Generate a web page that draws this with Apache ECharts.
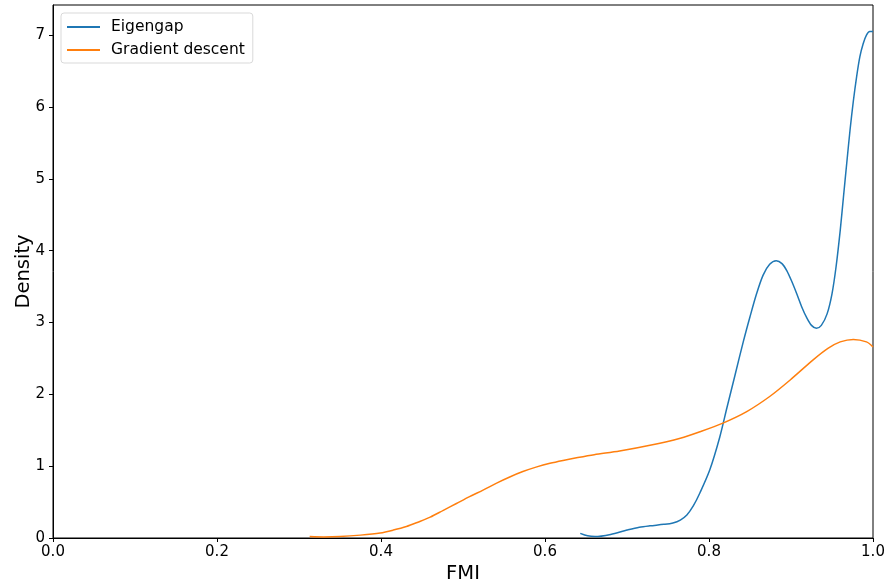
<!DOCTYPE html>
<html>
<head>
<meta charset="utf-8">
<script src="https://cdn.jsdelivr.net/npm/echarts@6/dist/echarts.min.js"></script>
<style>html,body{margin:0;padding:0;background:#fff}#c{width:888px;height:588px}</style>
</head>
<body>
<div id="c"></div>
<script>
const xTicks = [0, 0.2, 0.4, 0.6, 0.8, 1.0];
const yTicks = [0, 1, 2, 3, 4, 5, 6, 7];
const seriesNames = ['Eigengap', 'Gradient descent'];
const eigenX = [0.643, 0.652, 0.661, 0.680, 0.700, 0.715, 0.728, 0.745, 0.756, 0.765, 0.773, 0.781, 0.789, 0.801, 0.813, 0.822, 0.832, 0.842, 0.850, 0.858, 0.866, 0.874, 0.882, 0.889, 0.895, 0.901, 0.907, 0.913, 0.919, 0.925, 0.931, 0.937, 0.944, 0.950, 0.955, 0.960, 0.964, 0.968, 0.972, 0.976, 0.980, 0.984, 0.988, 0.992, 0.996, 1.0];
const eigenY = [0.065, 0.03, 0.02, 0.05, 0.11, 0.15, 0.17, 0.19, 0.21, 0.25, 0.32, 0.45, 0.63, 0.95, 1.40, 1.82, 2.28, 2.74, 3.08, 3.40, 3.66, 3.81, 3.86, 3.82, 3.72, 3.57, 3.40, 3.22, 3.07, 2.96, 2.92, 2.96, 3.12, 3.40, 3.78, 4.28, 4.75, 5.22, 5.68, 6.08, 6.42, 6.70, 6.88, 7.00, 7.05, 7.05];
const gradX = [0.313, 0.330, 0.350, 0.375, 0.399, 0.415, 0.431, 0.445, 0.460, 0.476, 0.492, 0.508, 0.525, 0.541, 0.557, 0.573, 0.590, 0.606, 0.622, 0.640, 0.660, 0.691, 0.728, 0.765, 0.789, 0.817, 0.846, 0.874, 0.899, 0.927, 0.945, 0.960, 0.976, 0.992, 1.0];
const gradY = [0.02, 0.015, 0.02, 0.04, 0.07, 0.11, 0.16, 0.22, 0.29, 0.385, 0.48, 0.575, 0.67, 0.765, 0.85, 0.925, 0.99, 1.04, 1.08, 1.12, 1.16, 1.21, 1.29, 1.39, 1.48, 1.60, 1.76, 1.97, 2.20, 2.48, 2.64, 2.73, 2.765, 2.73, 2.66];

const zip = (xs, ys) => xs.map((x, i) => [x, ys[i]]);
const font = 'DejaVu Sans';
const chart = echarts.init(document.getElementById('c'), null, {renderer: 'canvas'});
chart.setOption({
  animation: false,
  color: ['#1f77b4', '#ff7f0e'],
  grid: {left: 53, right: 15, top: 5, bottom: 50, outerBoundsMode: 'none', containLabel: false,
         show: true, borderColor: '#000', borderWidth: 1, backgroundColor: 'transparent'},
  legend: {
    left: 61, top: 13, orient: 'vertical', itemWidth: 33, itemHeight: 2, itemGap: 7,
    padding: [6, 8, 5, 6],
    borderColor: '#d9d9d9', borderWidth: 1, borderRadius: 3, backgroundColor: 'rgba(255,255,255,0.8)',
    icon: 'rect',
    textStyle: {fontFamily: font, fontSize: 15.5, color: '#000', padding: [0, 0, 0, 6]},
    data: seriesNames
  },
  xAxis: {
    type: 'value', min: 0, max: 1, interval: 0.2,
    name: 'FMI', nameLocation: 'middle', nameGap: 26, nameMoveOverlap: false,
    nameTextStyle: {fontFamily: font, fontSize: 19.5, color: '#000'},
    axisLine: {show: true, lineStyle: {color: '#000', width: 1}},
    axisTick: {show: true, length: 4, inside: false, lineStyle: {color: '#000'}},
    axisLabel: {fontFamily: font, fontSize: 15, color: '#000', margin: 7, formatter: v => v.toFixed(1)},
    splitLine: {show: false}
  },
  yAxis: {
    type: 'value', min: 0, max: 7.42,
    name: 'Density', nameLocation: 'middle', nameGap: 19, nameMoveOverlap: false,
    nameTextStyle: {fontFamily: font, fontSize: 19.5, color: '#000'},
    axisLine: {show: true, lineStyle: {color: '#000', width: 1}},
    axisTick: {show: true, length: 4, lineStyle: {color: '#000'}, customValues: yTicks},
    axisLabel: {fontFamily: font, fontSize: 15, color: '#000', margin: 8, customValues: yTicks},
    splitLine: {show: false}
  },
  series: [
    {name: seriesNames[0], type: 'line', data: zip(eigenX, eigenY), smooth: 0.3, showSymbol: false, lineStyle: {width: 1.5, color: '#1f77b4'}},
    {name: seriesNames[1], type: 'line', data: zip(gradX, gradY), smooth: 0.3, showSymbol: false, lineStyle: {width: 1.5, color: '#ff7f0e'}}
  ]
});
</script>
</body>
</html>
